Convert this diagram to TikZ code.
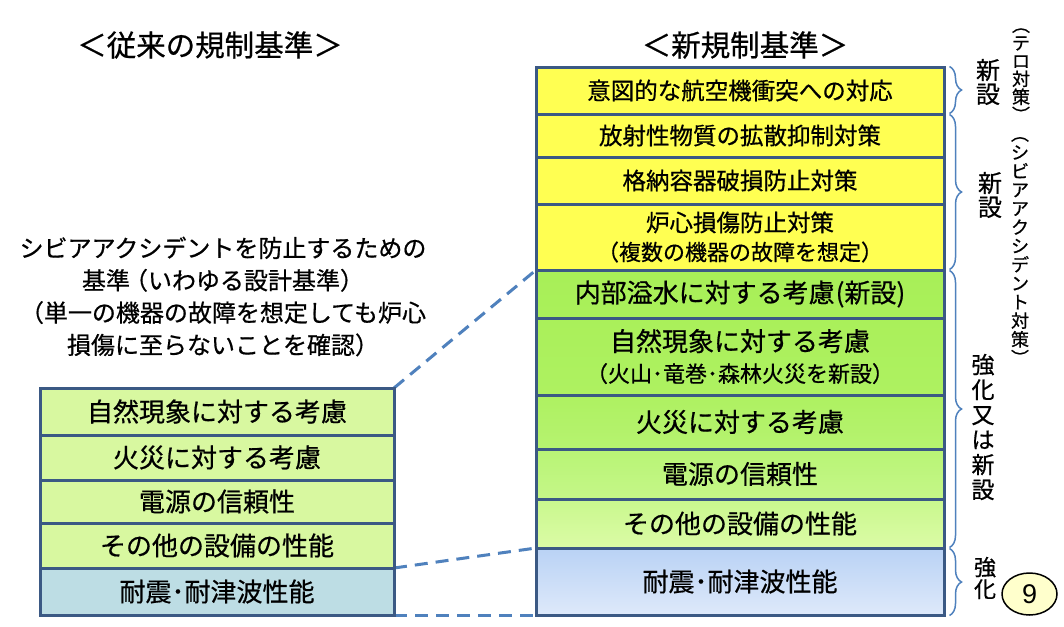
\documentclass[tikz,border=0pt]{standalone}
\usepackage{fontspec}
\setmainfont{Noto Sans CJK JP}[UprightFeatures={FakeBold=0.6}]
\newfontfamily\latinsans{Liberation Sans}
\usetikzlibrary{decorations.pathreplacing,shadings,shapes.geometric}
\definecolor{bordc}{RGB}{59,89,132}
\definecolor{linec}{RGB}{79,129,189}
\definecolor{yel}{RGB}{255,255,82}
\definecolor{lgreen}{RGB}{216,248,160}
\definecolor{lblue}{RGB}{189,221,228}
\definecolor{pgyel}{RGB}{255,255,204}
\newcommand\myfs[1]{\fontsize{#1}{#1}\selectfont}
\begin{document}
\begin{tikzpicture}[x=1pt,y=-1pt,
  rbox/.style={draw=bordc, line width=3pt, minimum width=408pt, inner sep=0pt, align=center, text=black},
  lbox/.style={draw=bordc, line width=3pt, minimum width=354pt, inner sep=0pt, align=center, text=black},
  conn/.style={draw=linec, line width=3pt, dash pattern=on 13pt off 8pt},
  brc/.style={draw=linec, line width=1.5pt, decorate, decoration={brace, amplitude=12pt, aspect=0.5}},
  vlab/.style={align=center, inner sep=0pt, text=black}]
\useasboundingbox (0,0) rectangle (1064,626);
\fill[white] (0,0) rectangle (1064,626);

% titles
\node[font=\myfs{29.5}] (tl) at (210,45) {＜従来の規制基準＞};
\node[font=\myfs{29.5}] (tr) at (745,45) {＜新規制基準＞};

% note
\node[align=center, inner sep=0pt, font=\fontsize{24}{32.3}\selectfont] (note) at (223,296.5) {シビアアクシデントを防止するための\\基準\kern-6pt（いわゆる設計基準）\\（単一の機器の故障を想定しても炉心\\損傷に至らないことを確認）};

% dashed connectors (behind)
\coordinate (lA) at (394,388);
\coordinate (lB) at (394,568);
\coordinate (lC) at (394,615);
\coordinate (rA) at (536,270);
\coordinate (rB) at (536,548);
\coordinate (rC) at (536,615);
\draw[conn] (lA) -- (rA);
\draw[conn] (lB) -- (rB);
\draw[conn] (lC) -- (rC);

% right stack
\node[rbox, fill=yel, minimum height=47pt, font=\myfs{23.5}] (r1) at (740,90.5) {意図的な航空機衝突への対応};
\node[rbox, fill=yel, minimum height=43pt, font=\myfs{23.5}] (r2) at (740,135.5) {放射性物質の拡散抑制対策};
\node[rbox, fill=yel, minimum height=47pt, font=\myfs{23.5}] (r3) at (740,180.5) {格納容器破損防止対策};
\node[rbox, fill=yel, minimum height=66pt, font=\fontsize{23.5}{29}\selectfont] (r4) at (740,237) {炉心損傷防止対策\\\fontsize{22}{29}\selectfont （複数の機器の故障を想定）};
\node[rbox, top color={rgb,255:red,168;green,239;blue,88}, bottom color={rgb,255:red,170;green,240;blue,90}, minimum height=48pt, font=\myfs{26}] (r5) at (740,294) {内部溢水に対する考慮\hspace{1pt}(新設)};
\node[rbox, top color={rgb,255:red,170;green,240;blue,90}, bottom color={rgb,255:red,174;green,241;blue,97}, minimum height=77pt, font=\fontsize{26}{31}\selectfont] (r6) at (740,356.5) {自然現象に対する考慮\\\fontsize{22}{31}\selectfont （火山･竜巻･森林火災を新設）};
\node[rbox, top color={rgb,255:red,174;green,241;blue,97}, bottom color={rgb,255:red,182;green,243;blue,112}, minimum height=54pt, font=\myfs{26}] (r7) at (740,422) {火災に対する考慮};
\node[rbox, top color={rgb,255:red,184;green,244;blue,117}, bottom color={rgb,255:red,197;green,247;blue,136}, minimum height=50pt, font=\myfs{26}] (r8) at (740,474) {電源の信頼性};
\node[rbox, top color={rgb,255:red,201;green,248;blue,141}, bottom color={rgb,255:red,219;green,251;blue,166}, minimum height=49pt, font=\myfs{26}] (r9) at (740,523.5) {その他の設備の性能};
\node[rbox, top color={rgb,255:red,185;green,210;blue,245}, bottom color={rgb,255:red,222;green,233;blue,250}, minimum height=67pt, font=\myfs{26}] (r10) at (740,581.5) {耐震･耐津波性能};

% left stack
\node[lbox, fill=lgreen, minimum height=47pt, font=\myfs{26}] (l1) at (217,411.5) {自然現象に対する考慮};
\node[lbox, fill=lgreen, minimum height=45pt, font=\myfs{26}] (l2) at (217,457.5) {火災に対する考慮};
\node[lbox, fill=lgreen, minimum height=43pt, font=\myfs{26}] (l3) at (217,501.5) {電源の信頼性};
\node[lbox, fill=lgreen, minimum height=45pt, font=\myfs{26}] (l4) at (217,545.5) {その他の設備の性能};
\node[lbox, fill=lblue, minimum height=47pt, font=\myfs{26}] (l5) at (217,591.5) {耐震･耐津波性能};

% braces
\draw[brc] ([shift={(4pt,-1pt)}]r1.north east) -- ([shift={(4pt,2pt)}]r1.south east);
\draw[brc] ([shift={(4pt,-2pt)}]r2.north east) -- ([shift={(4pt,2pt)}]r4.south east);
\draw[brc] ([shift={(4pt,-2pt)}]r5.north east) -- ([shift={(4pt,2pt)}]r9.south east);
\draw[brc] ([shift={(4pt,-2pt)}]r10.north east) -- ([shift={(4pt,1pt)}]r10.south east);

% side labels
\node[vlab, font=\myfs{24}] (v1) at (988,82) {新\\設};
\node[vlab, font=\myfs{24}] (v2) at (990,195) {新\\設};
\node[vlab, font=\fontsize{23}{25}\selectfont] (v3) at (983,427) {強\\化\\又\\は\\新\\設};
\node[vlab, font=\myfs{22}] (v4) at (985,578) {強\\化};
\node[vlab, font=\myfs{18}] (t1) at (1021,75) {︵\\テ\\ロ\\対\\策\\︶};
\node[vlab, font=\fontsize{18}{18.7}\selectfont] (t2) at (1020,251) {︵\\シ\\ビ\\ア\\ア\\ク\\シ\\デ\\ン\\ト\\対\\策\\︶};

% page number
\node[ellipse, draw=black, line width=1.5pt, fill=pgyel, minimum width=55pt, minimum height=42pt, inner sep=0pt, font=\latinsans\myfs{27}] (pg) at (1029.5,594) {9};
\end{tikzpicture}
\end{document}
